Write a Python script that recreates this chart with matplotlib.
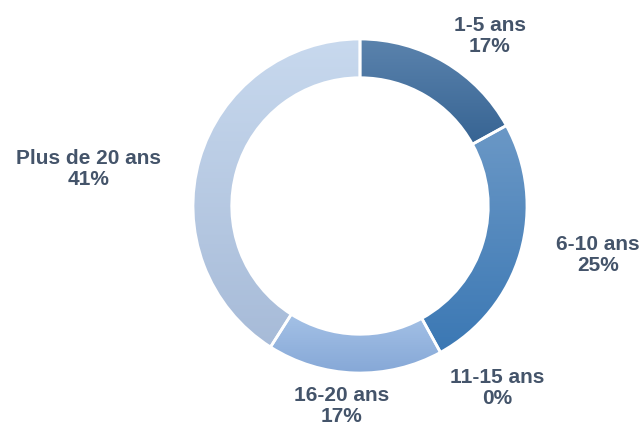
import numpy as np
import matplotlib
matplotlib.use("Agg")
import matplotlib.pyplot as plt
from matplotlib.colors import LinearSegmentedColormap

categories = ["1-5 ans", "6-10 ans", "11-15 ans", "16-20 ans", "Plus de 20 ans"]
values = [17, 25, 0, 17, 41]

# gradient colours (top, bottom) for each slice
top_colors = ["#5b83ad", "#6b98c6", "#7fa6d3", "#a4c1e6", "#c8d9ee"]
bottom_colors = ["#376493", "#3b78b4", "#5b8cc4", "#86a8d7", "#a7bbd8"]

# label anchor points in figure pixels (x, y from top)
label_pos = [(490, 36), (598, 255), (497, 388), (342, 406), (89, 169)]

W, H = 643, 423
fig = plt.figure(figsize=(W / 100, H / 100), dpi=100)
ax = fig.add_axes([0, 0, 1, 1])

cx, cy, r = 360, H - 206, 167
wedges, _ = ax.pie(values, startangle=90, counterclock=False,
                   center=(cx, cy), radius=r,
                   wedgeprops=dict(width=r * 0.232, edgecolor="white", linewidth=2))

for w, c0, c1 in zip(wedges, top_colors, bottom_colors):
    if w.theta1 == w.theta2:
        continue
    ext = w.get_path().get_extents()
    cmap = LinearSegmentedColormap.from_list("g", [c1, c0])
    grad = np.linspace(0, 1, 256).reshape(-1, 1)
    w.set_facecolor("none")
    im = ax.imshow(grad, cmap=cmap, origin="lower", aspect="auto",
                   extent=[ext.x0, ext.x1, ext.y0, ext.y1], zorder=1)
    im.set_clip_path(w)
    w.set_zorder(2)

for name, v, (px, py) in zip(categories, values, label_pos):
    ax.text(px, H - py, f"{name}\n{v}%", ha="center", va="center",
            fontsize=15, fontweight="bold", color="#44546a",
            family="Liberation Sans", linespacing=1.1)

ax.set_xlim(0, W)
ax.set_ylim(0, H)
ax.set_aspect("equal")
ax.axis("off")
fig.savefig("out.png", dpi=100)
